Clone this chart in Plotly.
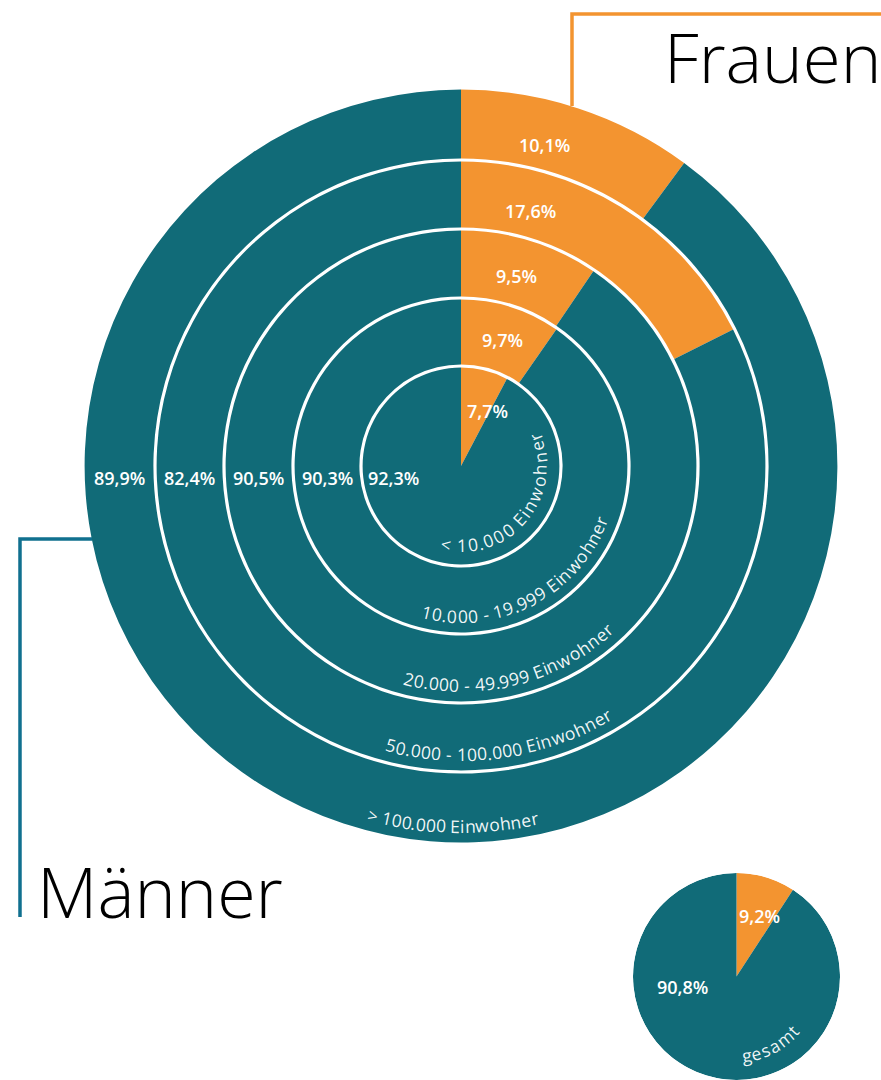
import math
import plotly.graph_objects as go

# ---------------- data ----------------
groups = ["< 10.000 Einwohner", "10.000 - 19.999 Einwohner", "20.000 - 49.999 Einwohner",
          "50.000 - 100.000 Einwohner", "> 100.000 Einwohner"]
frauen = [7.7, 9.7, 9.5, 17.6, 10.1]
maenner = [92.3, 90.3, 90.5, 82.4, 89.9]
total_label = "gesamt"
total_frauen = 9.2
total_maenner = 90.8

# ---------------- style ----------------
W, H = 881, 1080
TEAL = "#116b78"
ORANGE = "#f39430"
BLUE_LINE = "#10708f"
CX, CY = 461, 466          # centre of ring chart (page px)
RING_EDGES = [0, 100, 168, 237, 306, 378]
TEXT_INSET = [21, 18, 18, 18, 18]
TEXT_TRACK = [1.1, 1.03, 1.02, 1.02, 1.0]
GAP = 1.6
SCX, SCY, SR = 736.5, 979.5, 103.5   # small pie (page px)
LABEL_FONT = "Open Sans"


def fmt(v):
    return f"{v:.1f}".replace(".", ",") + "%"


def fx(x):
    return x / W


def fy(y):
    return 1 - y / H


fig = go.Figure()

bases, lens = [], []
for i in range(len(groups)):
    b = RING_EDGES[i] + (GAP if i > 0 else 0)
    t = RING_EDGES[i + 1] - GAP - b
    bases.append(b)
    lens.append(t)

fig.add_trace(go.Barpolar(
    r=lens, base=bases,
    theta=[f * 3.6 / 2 for f in frauen], width=[f * 3.6 for f in frauen],
    marker=dict(color=ORANGE, line=dict(width=0)), name="Frauen", subplot="polar",
    hoverinfo="skip"))
fig.add_trace(go.Barpolar(
    r=lens, base=bases,
    theta=[f * 3.6 + m * 3.6 / 2 for f, m in zip(frauen, maenner)],
    width=[m * 3.6 for m in maenner],
    marker=dict(color=TEAL, line=dict(width=0)), name="Männer", subplot="polar",
    hoverinfo="skip"))

fig.add_trace(go.Barpolar(
    r=[SR], base=[0], theta=[total_frauen * 1.8], width=[total_frauen * 3.6],
    marker=dict(color=ORANGE, line=dict(width=0)), subplot="polar2", hoverinfo="skip"))
fig.add_trace(go.Barpolar(
    r=[SR], base=[0], theta=[total_frauen * 3.6 + total_maenner * 1.8], width=[total_maenner * 3.6],
    marker=dict(color=TEAL, line=dict(width=0)), subplot="polar2", hoverinfo="skip"))

R = RING_EDGES[-1]


def polar_cfg(cx, cy, r):
    return dict(
        domain=dict(x=[fx(cx - r), fx(cx + r)], y=[max(0, fy(cy + r)), min(1, fy(cy - r))]),
        bgcolor="rgba(0,0,0,0)", bargap=0, hole=0,
        radialaxis=dict(visible=False, range=[0, r], showgrid=False, showline=False, showticklabels=False),
        angularaxis=dict(visible=False, rotation=90, direction="clockwise", showgrid=False,
                         showline=False, showticklabels=False, ticks=""),
    )


fig.update_layout(polar=polar_cfg(CX, CY, R), polar2=polar_cfg(SCX, SCY - 3, SR))

annotations = []


def add_label(text, x, y, size=18, weight=600, color="white", angle=0, family=LABEL_FONT,
              xanchor="center"):
    annotations.append(dict(text=text, x=fx(x), y=fy(y), xref="paper", yref="paper", showarrow=False,
                            xanchor=xanchor, yanchor="middle", textangle=angle,
                            font=dict(family=family, size=size, color=color, weight=weight)))


# percentage labels
for i, (f, m) in enumerate(zip(frauen, maenner)):
    if i == 0:
        r_o, r_m = 59, 68
    else:
        r_o = r_m = (RING_EDGES[i] + RING_EDGES[i + 1]) / 2
    add_label(fmt(f), CX + 15 + 0.2 * r_o, CY - 0.94 * r_o)
    add_label(fmt(m), CX - r_m, CY + 12)

add_label(fmt(total_frauen), SCX + 22.5, SCY - 64)
add_label(fmt(total_maenner), SCX - 54.5, SCY + 7)

# curved group labels
EM = {' ': 0.26, '.': 0.266, '-': 0.322, '<': 0.572, '>': 0.572, 'E': 0.556, 'i': 0.248,
      'n': 0.615, 'w': 0.801, 'o': 0.602, 'h': 0.615, 'e': 0.561, 'r': 0.408, 'g': 0.545,
      's': 0.477, 'a': 0.556, 'm': 0.935, 't': 0.35}


def arc_text(text, cx, cy, r, theta_start, size, track):
    pos = 0.0
    for ch in text:
        w = EM.get(ch, 0.572) * size * track
        if ch != ' ':
            s = pos + w / 2
            th = theta_start - math.degrees(s / r)
            x = cx + r * math.sin(math.radians(th))
            y = cy - r * math.cos(math.radians(th))
            t = {'<': '&lt;', '>': '&gt;'}.get(ch, ch)
            add_label(t, x, y, size=size, weight=500, color="rgba(255,255,255,0.94)", angle=th - 180)
        pos += w


for i, g in enumerate(groups):
    r_txt = RING_EDGES[i + 1] - TEXT_INSET[i]
    arc_text(g, CX, CY, r_txt, 195, 17.5, TEXT_TRACK[i])

arc_text(total_label, SCX, SCY, 76, 176, 17.5, 1.03)

# titles
add_label("Frauen", 883, 56, size=69, weight=300, color="black", family="Open Sans", xanchor="right")
add_label("Männer", 35, 891, size=70, weight=300, color="black", family="Open Sans", xanchor="left")


def pline(points):
    return "M " + " L ".join(f"{fx(x):.5f},{fy(y):.5f}" for x, y in points)


shapes = [
    dict(type="path", xref="paper", yref="paper", path=pline([(572, 106), (572, 14), (882, 14)]),
         line=dict(color=ORANGE, width=3.5)),
    dict(type="path", xref="paper", yref="paper", path=pline([(92, 539), (20, 539), (20, 917)]),
         line=dict(color=BLUE_LINE, width=3.5)),
]

fig.update_layout(width=W, height=H, margin=dict(l=0, r=0, t=0, b=0),
                  paper_bgcolor="white", plot_bgcolor="white", showlegend=False,
                  annotations=annotations, shapes=shapes)

fig.write_html("out.html", config={"displayModeBar": False},
               post_script="document.body.style.margin='0';document.body.style.overflow='hidden';")
